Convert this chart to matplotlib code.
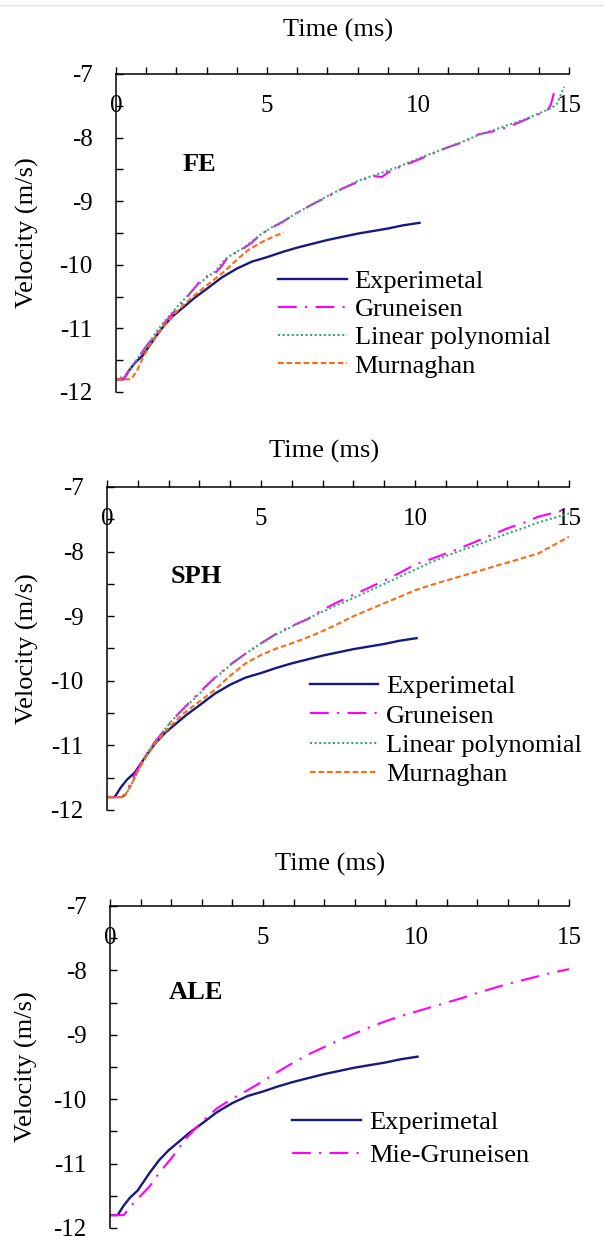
import matplotlib
matplotlib.use("Agg")
from matplotlib import pyplot as plt
from matplotlib.ticker import MultipleLocator
from matplotlib.lines import Line2D

plt.rcParams['font.family'] = ['Liberation Serif', 'DejaVu Serif']
plt.rcParams['axes.unicode_minus'] = False

# experimental curve (same in all three panels)
exp_t = [0, 0.25, 0.45, 0.65, 0.9, 1.1, 1.3, 1.6, 1.9, 2.2, 2.6, 3.0, 3.5, 4.0, 4.5,
         5.0, 5.5, 6.0, 6.5, 7.0, 7.5, 8.0, 8.5, 9.0, 9.5, 10.05]
exp_v = [-11.8, -11.8, -11.65, -11.53, -11.42, -11.28, -11.14, -10.95, -10.8, -10.68,
         -10.52, -10.38, -10.2, -10.06, -9.95, -9.88, -9.8, -9.73, -9.67, -9.61,
         -9.56, -9.51, -9.47, -9.43, -9.38, -9.34]

# FE
fe_gru_t = [0, 0.25, 0.4, 0.6, 0.8, 1.0, 1.3, 1.6, 1.9, 2.2, 2.5, 2.8, 3.1, 3.3, 3.5,
            3.7, 3.9, 4.2, 4.5, 4.8, 5.1, 5.5, 6.0, 6.5, 7.0, 7.5, 8.0, 8.5, 8.8, 9.0,
            9.5, 10.0, 10.5, 11.0, 11.5, 12.0, 12.5, 13.0, 13.5, 14.0, 14.3, 14.4, 14.5]
fe_gru_v = [-11.8, -11.8, -11.68, -11.56, -11.42, -11.28, -11.1, -10.92, -10.75, -10.6,
            -10.42, -10.25, -10.15, -10.12, -10.02, -9.88, -9.83, -9.75, -9.65, -9.52,
            -9.43, -9.33, -9.18, -9.05, -8.93, -8.8, -8.7, -8.6, -8.62, -8.55, -8.44,
            -8.35, -8.25, -8.15, -8.07, -7.95, -7.9, -7.83, -7.73, -7.63, -7.56, -7.48, -7.3]
fe_lin_t = [0, 0.3, 0.6, 0.9, 1.2, 1.5, 1.8, 2.1, 2.4, 2.7, 3.0, 3.3, 3.6, 3.9, 4.2,
            4.5, 4.8, 5.2, 5.6, 6.0, 6.5, 7.0, 7.5, 8.0, 8.5, 9.0, 9.5, 10.0, 10.5,
            11.0, 11.5, 12.0, 12.5, 13.0, 13.5, 14.0, 14.4, 14.6, 14.84]
fe_lin_v = [-11.8, -11.75, -11.55, -11.35, -11.15, -10.95, -10.78, -10.62, -10.47,
            -10.32, -10.2, -10.1, -9.92, -9.82, -9.74, -9.63, -9.52, -9.4, -9.3, -9.18,
            -9.05, -8.92, -8.8, -8.68, -8.6, -8.52, -8.43, -8.33, -8.24, -8.15, -8.06,
            -7.96, -7.88, -7.8, -7.72, -7.62, -7.54, -7.47, -7.2]
fe_mur_t = [0, 0.5, 0.7, 0.9, 1.1, 1.4, 1.7, 2.0, 2.4, 2.8, 3.2, 3.6, 4.0, 4.4, 4.8,
            5.2, 5.55]
fe_mur_v = [-11.8, -11.8, -11.66, -11.45, -11.28, -11.08, -10.9, -10.74, -10.56, -10.4,
            -10.25, -10.1, -9.92, -9.76, -9.65, -9.56, -9.49]

# SPH
sph_gru_t = [0, 0.5, 0.7, 0.9, 1.2, 1.5, 1.8, 2.1, 2.5, 3.0, 3.5, 4.0, 4.5, 5.0, 5.5,
             6.0, 6.5, 7.0, 7.5, 8.0, 8.5, 9.0, 9.5, 10.0, 10.5, 11.0, 11.5, 12.0,
             12.5, 13.0, 13.5, 14.0, 14.5, 15.0]
sph_gru_v = [-11.8, -11.8, -11.65, -11.45, -11.2, -10.98, -10.8, -10.62, -10.42, -10.18,
             -9.95, -9.75, -9.58, -9.42, -9.27, -9.15, -9.05, -8.9, -8.78, -8.67,
             -8.56, -8.45, -8.33, -8.2, -8.12, -8.03, -7.94, -7.84, -7.74, -7.64,
             -7.56, -7.46, -7.4, -7.34]
sph_lin_t = [0, 0.55, 0.75, 0.95, 1.2, 1.5, 1.8, 2.1, 2.5, 3.0, 3.5, 4.0, 4.5, 5.0,
             5.5, 6.0, 6.5, 7.0, 7.5, 8.0, 8.5, 9.0, 9.5, 10.0, 10.5, 11.0, 11.5, 12.0,
             12.5, 13.0, 13.5, 14.0, 14.5, 15.0]
sph_lin_v = [-11.8, -11.8, -11.65, -11.45, -11.2, -10.98, -10.8, -10.62, -10.43,
             -10.2, -9.96, -9.76, -9.58, -9.42, -9.28, -9.16, -9.04, -8.93, -8.82,
             -8.72, -8.61, -8.5, -8.39, -8.28, -8.17, -8.07, -7.98, -7.9, -7.81, -7.72,
             -7.64, -7.55, -7.48, -7.41]
sph_mur_t = [0, 0.55, 0.8, 1.0, 1.3, 1.6, 2.0, 2.5, 3.0, 3.5, 4.0, 4.5, 5.0, 5.5, 6.0,
             6.5, 7.0, 7.5, 8.0, 8.5, 9.0, 9.5, 10.0, 10.5, 11.0, 11.5, 12.0, 12.5,
             13.0, 13.5, 14.0, 14.5, 15.0]
sph_mur_v = [-11.8, -11.8, -11.6, -11.4, -11.15, -10.95, -10.73, -10.5, -10.32, -10.14,
             -9.92, -9.73, -9.6, -9.5, -9.42, -9.33, -9.23, -9.12, -9.0, -8.9, -8.8,
             -8.7, -8.6, -8.52, -8.45, -8.38, -8.31, -8.24, -8.17, -8.1, -8.03, -7.9,
             -7.77]

# ALE
ale_mie_t = [0, 0.45, 0.7, 1.0, 1.3, 1.6, 2.0, 2.5, 3.0, 3.5, 4.0, 4.5, 5.0, 5.5, 6.0,
             6.5, 7.0, 7.5, 8.0, 8.5, 9.0, 9.5, 10.0, 10.5, 11.0, 11.5, 12.0, 12.5,
             13.0, 13.5, 14.0, 14.5, 15.0]
ale_mie_v = [-11.8, -11.8, -11.65, -11.5, -11.35, -11.15, -10.92, -10.6, -10.35, -10.14,
             -9.99, -9.86, -9.72, -9.57, -9.43, -9.3, -9.19, -9.08, -8.98, -8.88,
             -8.79, -8.71, -8.64, -8.57, -8.5, -8.43, -8.35, -8.28, -8.21, -8.15,
             -8.09, -8.03, -7.98]

NAVY = '#16197f'
MAG = '#ff00ff'
GREEN = '#3aa874'
ORANGE = '#ff6a10'

W, H = 604, 1236
fig = plt.figure(figsize=(W / 100, H / 100), dpi=100)

# thin grey line at very top
fig.add_artist(Line2D([0, 1], [1 - 5 / H, 1 - 5 / H], color='#e2e2e2', lw=1))


def make_ax(left, right, top, bottom):
    return fig.add_axes([left / W, 1 - bottom / H, (right - left) / W, (bottom - top) / H])


def style(ax, title_x, title_y, ylab_x, name, name_pos, leg_pos, leg_space):
    ax.set_xlim(0, 15)
    ax.set_ylim(-12, -7)
    ax.spines['right'].set_visible(False)
    ax.spines['top'].set_visible(False)
    ax.spines['bottom'].set_position(('data', -7))
    for s in ('left', 'bottom'):
        ax.spines[s].set_linewidth(1.1)
    ax.xaxis.set_major_locator(MultipleLocator(5))
    ax.xaxis.set_minor_locator(MultipleLocator(1))
    ax.yaxis.set_major_locator(MultipleLocator(1))
    ax.yaxis.set_minor_locator(MultipleLocator(0.5))
    ax.tick_params(axis='both', which='both', direction='in', length=5, width=1)
    ax.tick_params(axis='x', which='major', labelsize=18, pad=15)
    ax.tick_params(axis='y', which='major', labelsize=18, pad=17)
    ax.set_title('Time (ms)', fontsize=19, x=title_x, y=title_y, va='center', pad=0)
    ax.set_ylabel('Velocity (m/s)', fontsize=19, va='center')
    ax.yaxis.set_label_coords(ylab_x, 0.5)
    ax.text(name_pos[0], name_pos[1], name, fontsize=19, fontweight='bold',
            ha='left', va='center')
    ax.legend(loc='upper left', bbox_to_anchor=leg_pos, frameon=False, fontsize=19,
              handlelength=2.6, handletextpad=0.3, borderpad=0, borderaxespad=0,
              labelspacing=leg_space)


# FE
ax1 = make_ax(116, 569, 74, 392)
ax1.plot(exp_t, exp_v, color=NAVY, lw=1.7, label='Experimetal')
ax1.plot(fe_gru_t, fe_gru_v, color=MAG, lw=1.5, dashes=(9, 4, 1, 4), label='Gruneisen')
ax1.plot(fe_lin_t, fe_lin_v, color=GREEN, lw=1.5, dashes=(1, 1.2), label='Linear polynomial')
ax1.plot(fe_mur_t, fe_mur_v, color=ORANGE, lw=1.5, dashes=(2.7, 1.4), label='Murnaghan')
style(ax1, 0.490, 1.138, -0.195, 'FE', (2.19, -8.43), (0.358, 0.385), 0.18)

# SPH
ax2 = make_ax(107, 569, 487, 810)
ax2.plot(exp_t, exp_v, color=NAVY, lw=1.7, label='Experimetal')
ax2.plot(sph_gru_t, sph_gru_v, color=MAG, lw=1.5, dashes=(9, 4, 1, 4), label='Gruneisen')
ax2.plot(sph_lin_t, sph_lin_v, color=GREEN, lw=1.5, dashes=(1, 1.2), label='Linear polynomial')
ax2.plot(sph_mur_t, sph_mur_v, color=ORANGE, lw=1.5, dashes=(2.7, 1.4), label='Murnaghan')
style(ax2, 0.470, 1.110, -0.172, 'SPH', (2.08, -8.39), (0.439, 0.418), 0.22)

# ALE
ax3 = make_ax(110, 569, 906, 1228)
ax3.plot(exp_t, exp_v, color=NAVY, lw=1.7, label='Experimetal')
ax3.plot(ale_mie_t, ale_mie_v, color=MAG, lw=1.5, dashes=(9, 4, 1, 4), label='Mie-Gruneisen')
style(ax3, 0.480, 1.130, -0.182, 'ALE', (1.93, -8.35), (0.397, 0.365), 0.37)

fig.savefig('out.png', dpi=100)
